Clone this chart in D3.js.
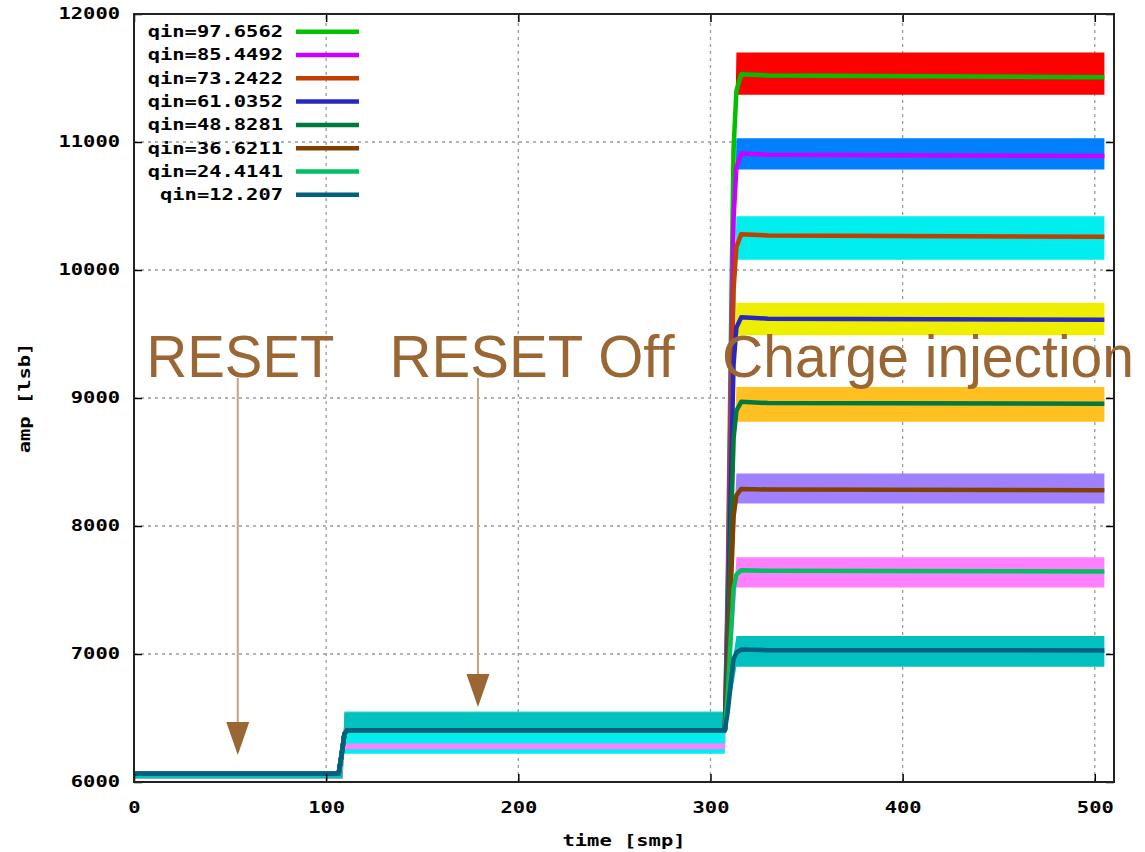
<!DOCTYPE html>
<html>
<head>
<meta charset="utf-8">
<script src="https://cdn.jsdelivr.net/npm/d3@7"></script>
<style>
body { margin: 0; background: #fff; }
.mono { font-family: "DejaVu Sans Mono", monospace; font-weight: bold; font-size: 15px; fill: #000; }
.note { font-family: "Liberation Sans", Arial, sans-serif; font-size: 60px; fill: #9a6633; }
</style>
</head>
<body>
<div class="plot"></div>
<script>
var qinLabels = ["qin=97.6562", "qin=85.4492", "qin=73.2422", "qin=61.0352",
                 "qin=48.8281", "qin=36.6211", "qin=24.4141", "qin=12.207"];
var lineColors = ["#00c000", "#c800ff", "#c04000", "#2828c0", "#007840", "#804000", "#00c060", "#00607f"];
var bandColors = ["#ff0000", "#0080ff", "#00eeee", "#eeee00", "#ffc020", "#a080ff", "#ff80ff", "#00c0c0"];

// averaged waveform, sampled at meanTimes
var meanTimes = [0, 106.5, 108, 109.5, 111, 307.5, 309, 310.5, 312, 313.5, 316, 330, 505];
var meanValues = [
  [6065, 6065, 6210, 6375, 6405, 6405, 7580, 9310, 10940, 11400, 11530, 11520, 11505],
  [6065, 6065, 6210, 6375, 6405, 6405, 7440, 8960, 10400, 10800, 10910, 10900, 10890],
  [6065, 6065, 6210, 6375, 6405, 6405, 7290, 8600, 9840, 10180, 10280, 10270, 10260],
  [6065, 6065, 6210, 6375, 6405, 6405, 7140, 8230, 9260, 9550, 9630, 9620, 9612],
  [6065, 6065, 6210, 6375, 6405, 6405, 6990, 7860, 8680, 8900, 8970, 8960, 8955],
  [6065, 6065, 6210, 6375, 6405, 6405, 6840, 7470, 8070, 8240, 8290, 8285, 8280],
  [6065, 6065, 6210, 6375, 6405, 6405, 6690, 7110, 7510, 7620, 7655, 7650, 7645],
  [6065, 6065, 6210, 6375, 6405, 6405, 6550, 6760, 6960, 7010, 7035, 7030, 7028]
];

// spread of the single events: [low, high] before reset off, after reset off, after injection
var bandTimes = [0, 108.5, 109.5, 307.5, 313.5, 505];
var bandPre  = [[6030, 6080], [6030, 6080], [6030, 6080], [6030, 6080], [6030, 6080], [6030, 6080], [6030, 6080], [6030, 6080]];
var bandMid  = [[6420, 6530], [6420, 6530], [6220, 6550], [6420, 6545], [6420, 6530], [6420, 6530], [6255, 6300], [6390, 6545]];
var bandPost = [[11370, 11700], [10785, 11030], [10080, 10420], [9490, 9745], [8815, 9085], [8175, 8410], [7520, 7755], [6900, 7140]];

var xTicks = [0, 100, 200, 300, 400, 500];
var yTicks = [6000, 7000, 8000, 9000, 10000, 11000, 12000];

var notes = [
  {text: "RESET", t: 6.5, width: 188},
  {text: "RESET Off", t: 133, width: 285},
  {text: "Charge injection", t: 306, width: 412}
];
var arrows = [{t: 54, tip: 6211}, {t: 179, tip: 6586}];

var W = 1145, H = 852,
    plotL = 134, plotR = 1114, plotT = 14, plotB = 782,
    charW = 12.3;

var x = d3.scaleLinear().domain([0, 510]).range([plotL, plotR]);
var y = d3.scaleLinear().domain([6000, 12000]).range([plotB, plotT]);

var svg = d3.select(".plot").append("svg")
    .attr("width", W)
    .attr("height", H);

function stretch(sel) {
  sel.attr("textLength", function() { return this.textContent.length * charW; })
     .attr("lengthAdjust", "spacingAndGlyphs");
}

// grid
var grid = svg.append("g").attr("class", "grid")
    .attr("stroke", "#9a9a9a").attr("stroke-width", 1.3).attr("stroke-dasharray", "3,4");
grid.selectAll(".vx").data(xTicks.filter(function(d) { return d > 0; }))
  .enter().append("line")
    .attr("x1", x).attr("x2", x).attr("y1", plotB).attr("y2", plotT);
grid.selectAll(".hy").data(yTicks.filter(function(d) { return d > 6000 && d < 12000; }))
  .enter().append("line")
    .attr("x1", plotL).attr("x2", plotR).attr("y1", y).attr("y2", y);

// noise bands
var area = d3.area()
    .x(function(d) { return x(d.t); })
    .y0(function(d) { return y(d.lo); })
    .y1(function(d) { return y(d.hi); });

var bands = qinLabels.map(function(q, i) {
  var segs = [bandPre[i], bandPre[i], bandMid[i], bandMid[i], bandPost[i], bandPost[i]];
  return bandTimes.map(function(t, j) { return {t: t, lo: segs[j][0], hi: segs[j][1]}; });
});

svg.append("g").selectAll("path")
    .data(bands)
  .enter().append("path")
    .attr("d", area)
    .attr("fill", function(d, i) { return bandColors[i]; });

// averaged lines
var line = d3.line()
    .x(function(d) { return x(d[0]); })
    .y(function(d) { return y(d[1]); });

svg.append("g").selectAll("path")
    .data(meanValues)
  .enter().append("path")
    .attr("d", function(vals) { return line(meanTimes.map(function(t, j) { return [t, vals[j]]; })); })
    .attr("fill", "none")
    .attr("stroke", function(d, i) { return lineColors[i]; })
    .attr("stroke-width", 4.5)
    .attr("stroke-linejoin", "round");

// axes
svg.append("g").attr("transform", "translate(0," + plotB + ")")
    .call(d3.axisBottom(x).tickValues(xTicks).tickSize(-8).tickPadding(20).tickFormat(d3.format("d")));
svg.append("g").attr("transform", "translate(" + plotL + ",0)")
    .call(d3.axisLeft(y).tickValues(yTicks).tickSize(-8).tickPadding(14).tickFormat(d3.format("d")));
svg.append("g").attr("transform", "translate(0," + plotT + ")")
    .call(d3.axisTop(x).tickValues(xTicks).tickSize(-8).tickFormat(""));
svg.append("g").attr("transform", "translate(" + plotR + ",0)")
    .call(d3.axisRight(y).tickValues(yTicks).tickSize(-8).tickFormat(""));

svg.selectAll(".domain").remove();
svg.selectAll(".tick line").attr("stroke", "#000").attr("stroke-width", 1.5);
svg.selectAll(".tick text").attr("class", "mono").attr("font-size", null).attr("font-family", null).call(stretch);

svg.append("rect")
    .attr("x", plotL).attr("y", plotT)
    .attr("width", plotR - plotL).attr("height", plotB - plotT)
    .attr("fill", "none").attr("stroke", "#222").attr("stroke-width", 2);

// axis titles
svg.append("text").attr("class", "mono")
    .attr("x", (plotL + plotR) / 2).attr("y", 846)
    .attr("text-anchor", "middle")
    .text("time [smp]").call(stretch);
svg.append("text").attr("class", "mono")
    .attr("transform", "translate(30,398) rotate(-90)")
    .attr("text-anchor", "middle")
    .text("amp [lsb]").call(stretch);

// legend
var legend = svg.append("g").selectAll("g")
    .data(qinLabels)
  .enter().append("g")
    .attr("transform", function(d, i) { return "translate(0," + (31.7 + i * 23.3) + ")"; });
legend.append("text").attr("class", "mono")
    .attr("x", 283).attr("dy", "0.36em")
    .attr("text-anchor", "end")
    .text(function(d) { return d; }).call(stretch);
legend.append("line")
    .attr("x1", 296).attr("x2", 359)
    .attr("stroke", function(d, i) { return lineColors[i]; })
    .attr("stroke-width", 4.5);

// annotations
var noteY = y(9164);
svg.append("g").selectAll("text")
    .data(notes)
  .enter().append("text")
    .attr("class", "note")
    .attr("x", function(d) { return x(d.t); })
    .attr("y", noteY)
    .attr("textLength", function(d) { return d.width; })
    .attr("lengthAdjust", "spacingAndGlyphs")
    .text(function(d) { return d.text; });

var arrow = svg.append("g").selectAll("g")
    .data(arrows)
  .enter().append("g");
arrow.append("line")
    .attr("x1", function(d) { return x(d.t); })
    .attr("x2", function(d) { return x(d.t); })
    .attr("y1", noteY + 1)
    .attr("y2", function(d) { return y(d.tip) - 30; })
    .attr("stroke", "#c9a27d")
    .attr("stroke-width", 2);
arrow.append("path")
    .attr("d", function(d) {
      var cx = x(d.t), ty = y(d.tip);
      return "M" + (cx - 11.5) + "," + (ty - 33) + "L" + (cx + 11.5) + "," + (ty - 33) + "L" + cx + "," + ty + "Z";
    })
    .attr("fill", "#9a6633");
</script>
</body>
</html>
